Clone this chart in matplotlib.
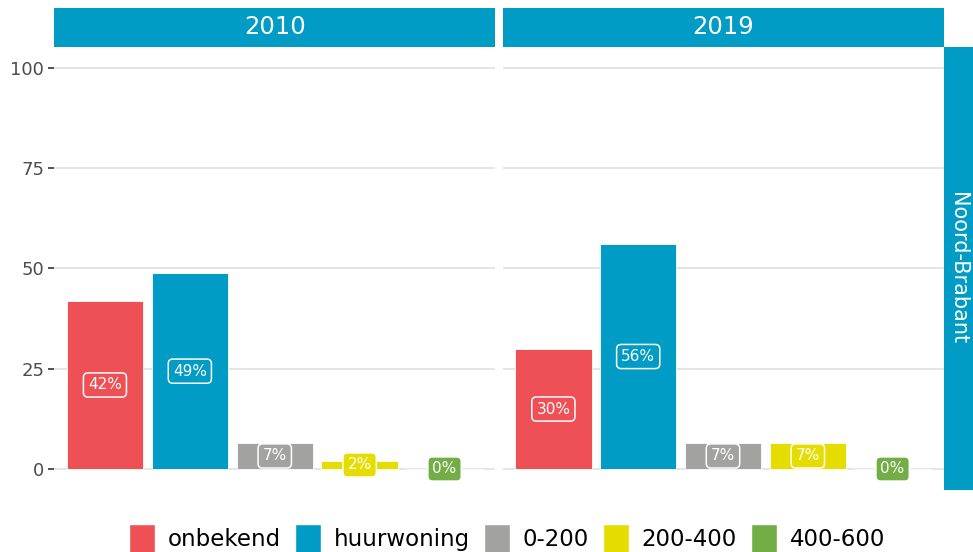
import numpy as np
import matplotlib
matplotlib.use("Agg")
import matplotlib.pyplot as plt
from matplotlib.patches import Patch

categories = ["onbekend", "huurwoning", "0-200", "200-400", "400-600"]
years = ["2010", "2019"]
values_2010 = [41.9, 48.8, 6.5, 2.0, 0.0]
values_2019 = [29.9, 56.1, 6.5, 6.5, 0.0]
labels_2010 = ["42%", "49%", "7%", "2%", "0%"]
labels_2019 = ["30%", "56%", "7%", "7%", "0%"]
region = "Noord-Brabant"
yticks = [0, 25, 50, 75, 100]

colors = ["#ef5055", "#009cc5", "#a2a2a1", "#e6dd00", "#72ad46"]
strip_col = "#009cc5"

W, H = 973, 552
fig = plt.figure(figsize=(W / 100, H / 100), dpi=100)


def fx(px):
    return px / W


def fy(px):
    return 1 - px / H


top, bottom = 47, 490
panels = [(54, 495.5), (502.5, 943.5)]
data = [(values_2010, labels_2010), (values_2019, labels_2019)]

for i, ((x0, x1), (vals, labs)) in enumerate(zip(panels, data)):
    ax = fig.add_axes([fx(x0), fy(bottom), fx(x1 - x0), (bottom - top) / H])
    x = np.arange(1, len(categories) + 1)
    ax.bar(x, vals, width=0.9, color=colors, edgecolor="white", linewidth=0.6, zorder=2)
    for xi, v, lab, c in zip(x, vals, labs, colors):
        ax.text(xi, v / 2, lab, ha="center", va="center", color="white", fontsize=11,
                zorder=3,
                bbox=dict(boxstyle="round,pad=0.3,rounding_size=0.3", fc=c, ec="white", lw=1.1))
    ax.set_xlim(0.4, 5.6)
    ax.set_ylim(-5.24, 105.24)
    ax.set_xticks([])
    ax.set_yticks(yticks)
    ax.grid(axis="y", color="#dedede", linewidth=1.1, zorder=0)
    ax.set_axisbelow(True)
    for s in ax.spines.values():
        s.set_visible(False)
    if i == 0:
        ax.tick_params(axis="y", labelsize=13, labelcolor="#4d4d4d", color="#333333",
                       length=4, width=1.2, pad=3)
    else:
        ax.tick_params(axis="y", left=False, labelleft=False)

    # strip on top
    sax = fig.add_axes([fx(x0), fy(47), fx(x1 - x0), 39 / H])
    sax.set_facecolor(strip_col)
    sax.set_xticks([])
    sax.set_yticks([])
    for s in sax.spines.values():
        s.set_visible(False)
    sax.text(0.5, 0.5, years[i], ha="center", va="center", color="white", fontsize=17.5,
             transform=sax.transAxes)

# strip on the right
rax = fig.add_axes([fx(944), fy(bottom), fx(W - 944), (bottom - top) / H])
rax.set_facecolor(strip_col)
rax.set_xticks([])
rax.set_yticks([])
for s in rax.spines.values():
    s.set_visible(False)
rax.text(0.5, 0.5, region, ha="center", va="center", color="white", fontsize=15,
         rotation=-90, transform=rax.transAxes)

handles = [Patch(facecolor=c, edgecolor="white") for c in colors]
fig.legend(handles, categories, loc="upper center", bbox_to_anchor=(fx(507), fy(524)),
           ncol=5, frameon=False, fontsize=16.5, handlelength=1.15, handleheight=1.6,
           handletextpad=0.55, columnspacing=0.6, borderpad=0, borderaxespad=0)

fig.savefig("out.png", dpi=100)
